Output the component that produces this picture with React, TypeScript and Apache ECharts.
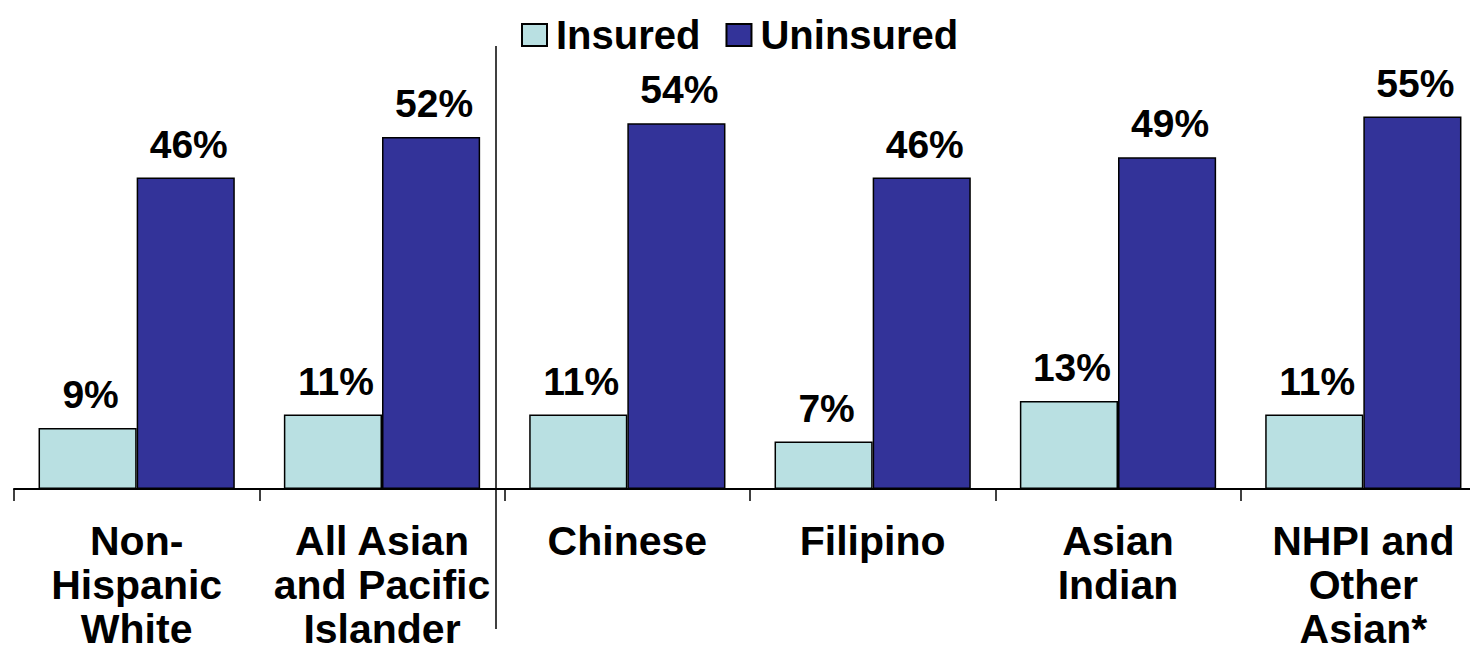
import React, { useEffect, useRef } from "react";
import * as echarts from "echarts";

const categories = [
  "Non-\nHispanic\nWhite",
  "All Asian\nand Pacific\nIslander",
  "Chinese",
  "Filipino",
  "Asian\nIndian",
  "NHPI and\nOther\nAsian*",
];
const insured = [9, 11, 11, 7, 13, 11];
const uninsured = [46, 52, 54, 46, 49, 55];
const seriesNames = ["Insured", "Uninsured"];

const FONT = "'Liberation Sans', Arial, Helvetica, sans-serif";

export default function App() {
  const ref = useRef<HTMLDivElement>(null);
  useEffect(() => {
    if (!ref.current) return;
    const chart = echarts.init(ref.current, undefined, { renderer: "svg" });
    const labelCfg = {
      show: true,
      position: "top" as const,
      distance: 14,
      offset: [3, 0],
      formatter: "{c}%",
      color: "#000",
      fontFamily: FONT,
      fontWeight: "bold" as const,
      fontSize: 39,
    };
    chart.setOption({
      animation: false,
      backgroundColor: "#fff",
      legend: {
        data: seriesNames,
        left: 516,
        top: 10,
        itemWidth: 25,
        itemHeight: 22,
        itemGap: 25,
        icon: "rect",
        textStyle: {
          fontFamily: FONT,
          fontWeight: "bold",
          fontSize: 40,
          color: "#000",
          padding: [0, 0, 0, 4],
        },
      },
      grid: { left: 14, right: 14, top: 15, bottom: 160, containLabel: false },
      xAxis: {
        type: "category",
        data: categories,
        axisLine: { show: true, lineStyle: { color: "#000", width: 2 } },
        axisTick: { show: true, length: 12, lineStyle: { color: "#000", width: 1.5 } },
        axisLabel: {
          interval: 0,
          margin: 30,
          color: "#000",
          fontFamily: FONT,
          fontWeight: "bold",
          fontSize: 41,
          lineHeight: 44,
        },
      },
      yAxis: {
        type: "value",
        min: 0,
        max: 70,
        show: false,
        splitLine: { show: false },
      },
      series: [
        {
          name: seriesNames[0],
          type: "bar",
          data: insured,
          barGap: "0%",
          barCategoryGap: "20%",
          itemStyle: { color: "#B9E0E2", borderColor: "#000", borderWidth: 1.5 },
          label: labelCfg,
        },
        {
          name: seriesNames[1],
          type: "bar",
          data: uninsured,
          barGap: "0%",
          barCategoryGap: "20%",
          itemStyle: { color: "#333399", borderColor: "#000", borderWidth: 1.5 },
          label: labelCfg,
        },
      ],
      graphic: [
        {
          type: "line",
          shape: { x1: 496, y1: 46, x2: 496, y2: 629 },
          style: { stroke: "#000", lineWidth: 1.5 },
          z: 10,
        },
      ],
    });
    return () => chart.dispose();
  }, []);
  return (
    <div
      style={{
        position: "fixed",
        left: 0,
        top: 0,
        width: 1470,
        height: 651,
        overflow: "hidden",
        background: "#fff",
      }}
    >
      <div ref={ref} style={{ width: 1500, height: 651 }} />
    </div>
  );
}
